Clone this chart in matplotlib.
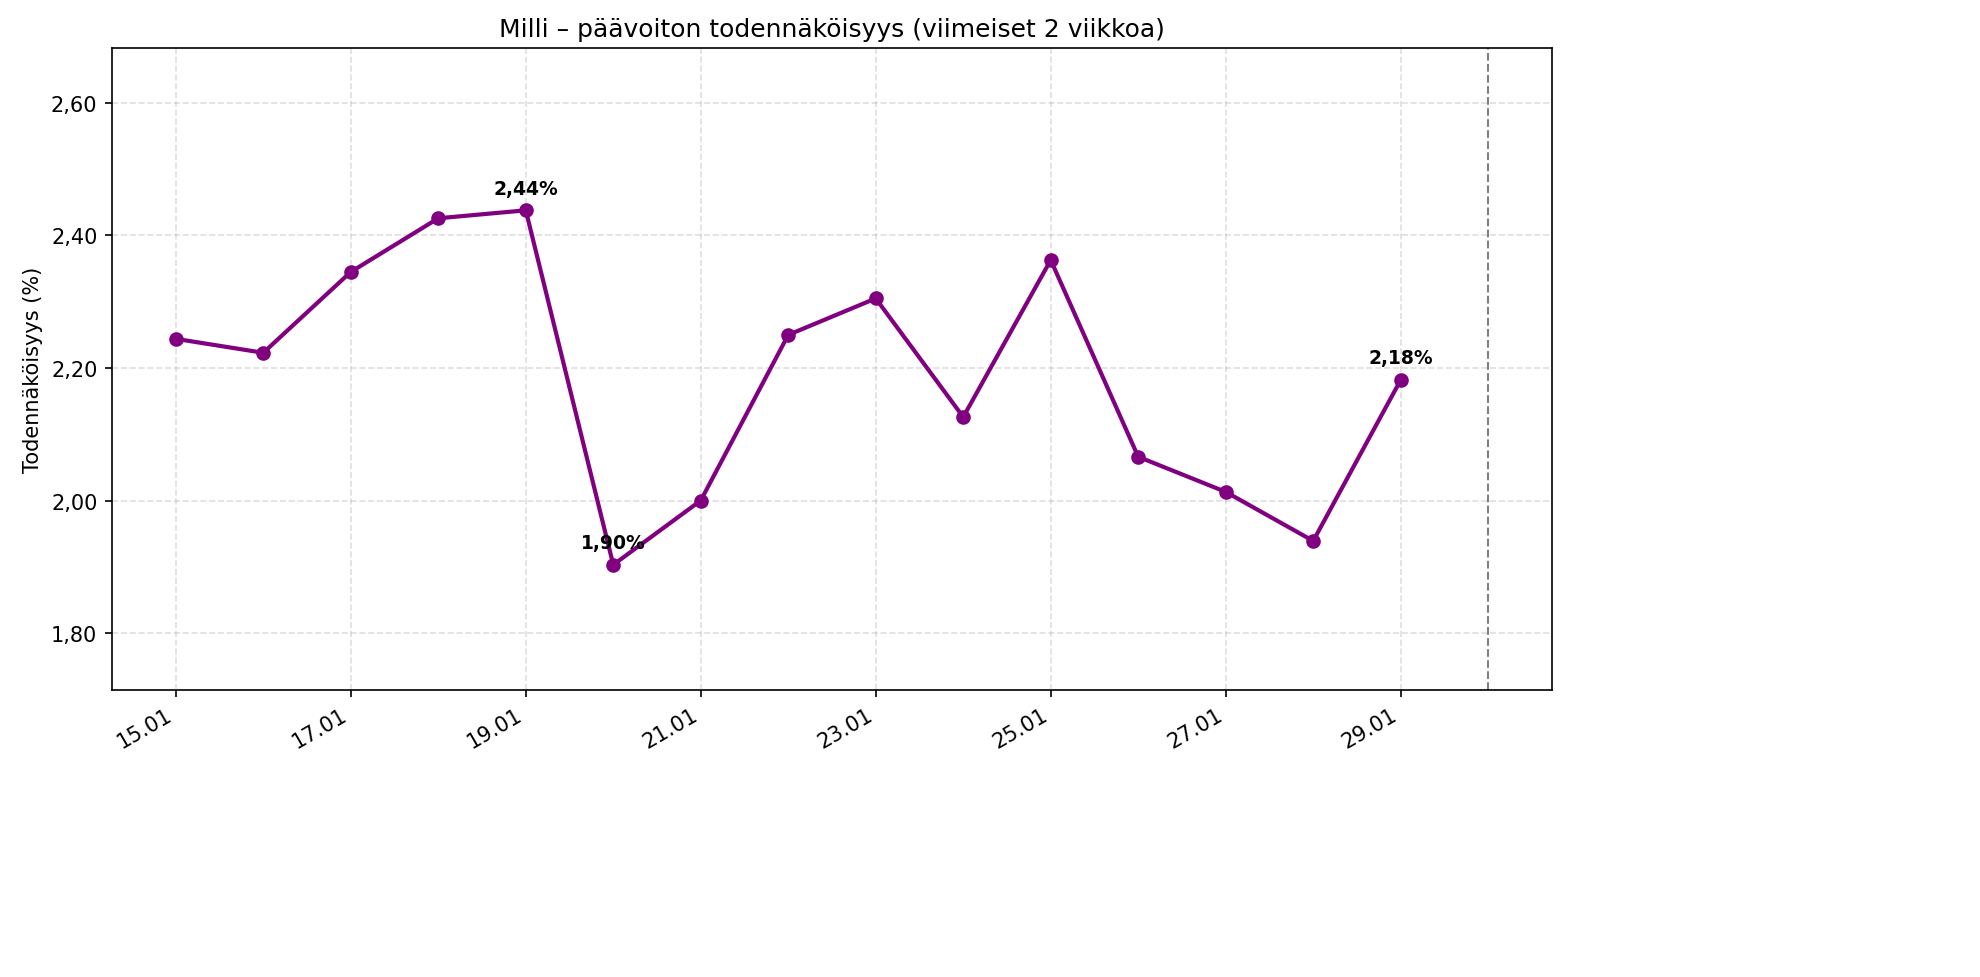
import matplotlib
matplotlib.use("Agg")
import matplotlib.pyplot as plt
import matplotlib.dates as mdates
import matplotlib.ticker as mticker
import pandas as pd

dates = pd.date_range("2024-01-15", "2024-01-29", freq="D")
values = [2.244, 2.223, 2.345, 2.426, 2.438, 1.903, 2.000, 2.250, 2.305, 2.126,
          2.363, 2.066, 2.013, 1.939, 2.182]
today = pd.Timestamp("2024-01-30")

fig = plt.figure(figsize=(13.2, 6.52), dpi=150)
ax = fig.add_axes([112/1980, 1-691/978, (1552-112)/1980, (691-49)/978])
ax.plot(dates, values, color="purple", lw=2, marker="o", ms=6)
ax.axvline(today, color="gray", ls="--", lw=1)
ax.grid(True, ls="--", alpha=0.4)

def fmt(v):
    return f"{v:.2f}".replace(".", ",") + "%"
imax = values.index(max(values)); imin = values.index(min(values)); il = len(values)-1
for i in (imax, imin, il):
    ax.annotate(fmt(values[i]), (dates[i], values[i]), xytext=(0, 8), textcoords="offset points",
                ha="center", fontsize=9, fontweight="bold")

ax.set_ylim(1.714, 2.683)
ax.set_xlim(dates[0] - pd.Timedelta(hours=17.5), today + pd.Timedelta(hours=17.5))
ax.yaxis.set_major_formatter(mticker.FuncFormatter(lambda v, p: f"{v:.2f}".replace(".", ",")))
ax.xaxis.set_major_locator(mdates.DayLocator(interval=2))
ax.xaxis.set_major_formatter(mdates.DateFormatter("%d.%m"))
for lbl in ax.get_xticklabels():
    lbl.set_rotation(30); lbl.set_ha("right")
ax.tick_params(labelsize=10)
ax.set_ylabel("Todennäköisyys (%)", fontsize=10)
ax.set_title("Milli – päävoiton todennäköisyys (viimeiset 2 viikkoa)", fontsize=12)
fig.savefig("out.png", dpi=150)
